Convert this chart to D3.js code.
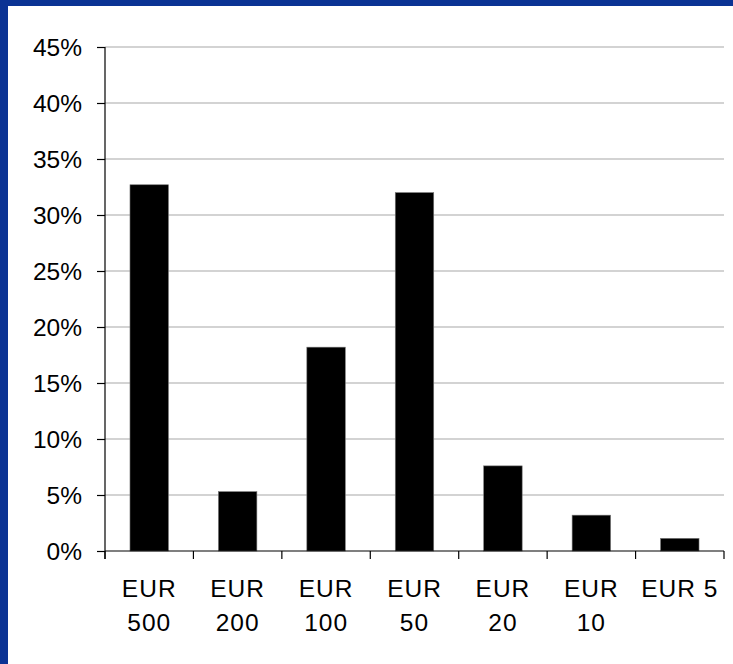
<!DOCTYPE html>
<html><head><meta charset="utf-8">
<script src="https://cdn.jsdelivr.net/npm/d3@7"></script>
<style>
html,body{margin:0;padding:0;background:#fff;}
svg{display:block;}
text{font-family:"Liberation Sans",Arial,sans-serif;fill:#000;}
</style></head>
<body>
<svg id="chart" width="733" height="664"></svg>
<script>
const categories = ["EUR 500","EUR 200","EUR 100","EUR 50","EUR 20","EUR 10","EUR 5"];
const values = [32.7, 5.3, 18.2, 32.0, 7.6, 3.2, 1.13];
const yTicks = [0,5,10,15,20,25,30,35,40,45];

const svg = d3.select("#chart");
const W = 733, H = 664;
// slide background: blue frame top & left
svg.append("rect").attr("x",0).attr("y",0).attr("width",W).attr("height",H).attr("fill","#0b3394");
svg.append("rect").attr("x",8).attr("y",6).attr("width",W-8).attr("height",H-6).attr("fill","#fff");

const m = {left:105, right:724, top:47, bottom:551};
const x = d3.scaleBand().domain(categories).range([m.left, m.right]).padding(0);
const y = d3.scaleLinear().domain([0,45]).range([m.bottom, m.top]);

// gridlines
svg.append("g").selectAll("line").data(yTicks.filter(d=>d>0)).join("line")
  .attr("x1",m.left).attr("x2",m.right)
  .attr("y1",d=>y(d)).attr("y2",d=>y(d))
  .attr("stroke","#c4c4c4").attr("stroke-width",1.3);

// bars
const bw = x.bandwidth()*0.435;
svg.append("g").selectAll("rect").data(values).join("rect")
  .attr("x",(d,i)=>x(categories[i])+x.bandwidth()/2-bw/2)
  .attr("width",bw)
  .attr("y",d=>y(d))
  .attr("height",d=>y(0)-y(d))
  .attr("fill","#000")
  .attr("stroke","#777").attr("stroke-width",0.6);

// y axis
const yAxis = d3.axisLeft(y).tickValues(yTicks).tickFormat(d=>d+"%").tickSize(8).tickPadding(15);
const gy = svg.append("g").attr("transform",`translate(${m.left},0)`).call(yAxis);
gy.select(".domain").attr("stroke","#000").attr("stroke-width",1.2).attr("d",`M-0,${m.top}V${m.bottom+8}`);
gy.selectAll(".tick line").attr("stroke","#000").attr("stroke-width",1.2);
gy.selectAll("text").style("font-size","24.5px").style("font-family",'"Liberation Sans",Arial,sans-serif').attr("fill","#1a1a1a").attr("dy","0.35em");

// x axis line and boundary ticks
svg.append("line").attr("x1",m.left).attr("x2",m.right).attr("y1",m.bottom).attr("y2",m.bottom)
  .attr("stroke","#000").attr("stroke-width",1.2);
const bounds = categories.map(c=>x(c)).concat([m.right]);
svg.append("g").selectAll("line").data(bounds).join("line")
  .attr("x1",d=>d).attr("x2",d=>d).attr("y1",m.bottom).attr("y2",m.bottom+8)
  .attr("stroke","#000").attr("stroke-width",1.2);

// x labels with wrapping
const lab = svg.append("g").selectAll("text").data(categories).join("text")
  .attr("x",d=>x(d)+x.bandwidth()/2)
  .attr("y",597)
  .attr("text-anchor","middle")
  .attr("fill","#1a1a1a")
  .style("font-size","24.5px")
  .style("letter-spacing","1px");
lab.each(function(d){
  const t = d3.select(this);
  t.text(d);
  if (this.getComputedTextLength() > x.bandwidth()-4) {
    t.text(null);
    d.split(" ").forEach((w,i)=>{
      t.append("tspan").attr("x",x(d)+x.bandwidth()/2).attr("dy",i===0?0:34).text(w);
    });
  }
});
</script>
</body></html>
